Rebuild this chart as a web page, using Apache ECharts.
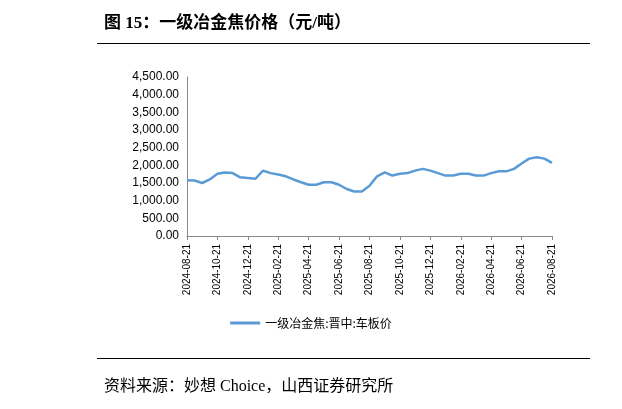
<!DOCTYPE html><html><head><meta charset="utf-8">
<script src="https://cdn.jsdelivr.net/npm/echarts@6/dist/echarts.min.js"></script>
<style>body{margin:0;background:#fff;font-family:"Liberation Serif","Noto Sans CJK SC";}
#t{position:absolute;left:104px;top:8px;font-size:17px;color:#000;font-weight:bold;}
#s{position:absolute;left:104px;top:372px;font-size:16px;color:#000;}
.l{position:absolute;left:97px;width:493px;height:1px;background:#000;}
#c{position:absolute;left:0;top:0;width:622px;height:409px;}
</style></head><body>
<div id="c"></div>
<div id="t">图 15：一级冶金焦价格（元/吨）</div>
<div class="l" style="top:43px"></div>
<div class="l" style="top:358px"></div>
<div id="s">资料来源：妙想 Choice，山西证券研究所</div>
<script>
const seriesName='一级冶金焦:晋中:车板价';
const values=[1580,1570,1500,1600,1760,1800,1780,1660,1640,1620,1850,1780,1740,1690,1600,1520,1450,1450,1520,1520,1450,1330,1260,1260,1420,1690,1800,1710,1760,1780,1850,1900,1850,1780,1710,1710,1760,1760,1710,1710,1780,1830,1830,1900,2050,2190,2230,2190,2070];
const categories=[];
for(let i=0;i<values.length;i++){
 if(i%2===0){const m=7+i/2;categories.push((2024+Math.floor(m/12))+'-'+String(m%12+1).padStart(2,'0')+'-21');}
 else{const m=8+Math.floor(i/2);categories.push((2024+Math.floor(m/12))+'-'+String(m%12+1).padStart(2,'0')+'-05');}
}
const yTicks=['0.00','500.00','1,000.00','1,500.00','2,000.00','2,500.00','3,000.00','3,500.00','4,000.00','4,500.00'];
const ch=echarts.init(document.getElementById('c'));
ch.setOption({animation:false,
grid:{left:187,right:70,top:77,bottom:173},
legend:{bottom:75,left:'center',itemWidth:30,itemHeight:3,icon:'rect',textStyle:{fontSize:12,color:'#000',fontFamily:'Noto Sans CJK SC'}},
xAxis:{type:'category',data:categories,boundaryGap:false,
 axisLine:{lineStyle:{color:'#888'}},axisTick:{interval:3,length:4,lineStyle:{color:'#888'}},
 axisLabel:{interval:3,rotate:90,fontSize:10,color:'#000',fontFamily:'Liberation Sans'}},
yAxis:{type:'value',min:0,max:4500,interval:500,splitLine:{show:false},
 axisLine:{show:true,lineStyle:{color:'#888'}},axisTick:{show:false},
 axisLabel:{fontSize:12,color:'#000',fontFamily:'Liberation Sans',formatter:v=>yTicks[Math.round(v/500)]}},
series:[{name:seriesName,type:'line',data:values,symbol:'none',lineStyle:{color:'#5b9bd5',width:2.5},itemStyle:{color:'#5b9bd5'}}]
});
</script></body></html>
